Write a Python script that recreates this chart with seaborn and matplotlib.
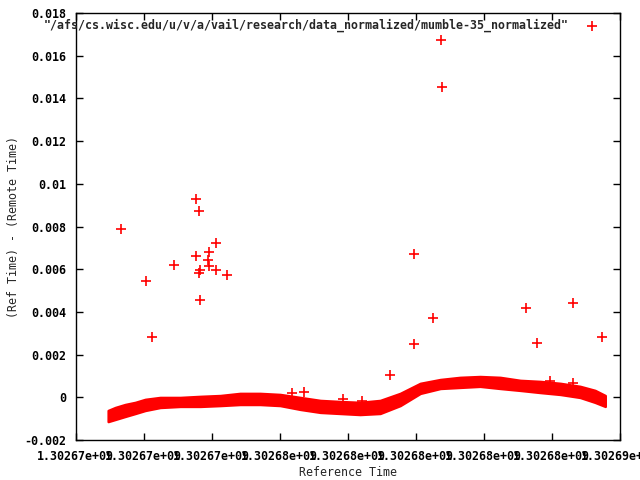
import matplotlib
matplotlib.use("Agg")
import matplotlib.pyplot as plt
import seaborn as sns
import pandas as pd
from matplotlib.ticker import FuncFormatter, MultipleLocator

# dense band of normal samples: time, upper edge, lower edge
band_t = [1302670960, 1302671170, 1302671460, 1302671760, 1302672050, 1302672490,
          1302673080, 1302673670, 1302674260, 1302674840, 1302675430, 1302676020,
          1302676610, 1302677200, 1302677780, 1302678370, 1302678960, 1302679550,
          1302680140, 1302680730, 1302681310, 1302681900, 1302682490, 1302683080,
          1302683670, 1302684260, 1302684840, 1302685280, 1302685580]
band_hi = [-0.00061, -0.00047, -0.00033, -0.00023, -0.00009, 0.0, 0.0, 0.00005,
           0.00009, 0.00019, 0.00019, 0.00014, 0.0, -0.00014, -0.00019, -0.00023,
           -0.00014, 0.00019, 0.00066, 0.00084, 0.00094, 0.00098, 0.00094, 0.00080,
           0.00075, 0.00066, 0.00052, 0.00033, 0.00009]
band_lo = [-0.00113, -0.00103, -0.00089, -0.00075, -0.00061, -0.00047, -0.00042,
           -0.00042, -0.00038, -0.00033, -0.00033, -0.00038, -0.00056, -0.00070,
           -0.00075, -0.00080, -0.00075, -0.00038, 0.00019, 0.00042, 0.00047,
           0.00052, 0.00042, 0.00033, 0.00023, 0.00014, 0.0, -0.00023, -0.00042]

# scattered samples
out_t = [1302680755, 1302680785, 1302671344, 1302673550, 1302673638, 1302674138,
         1302673932, 1302673550, 1302673903, 1302672903, 1302673932, 1302673667,
         1302674138, 1302673638, 1302674461, 1302672079, 1302673667, 1302672256,
         1302679961, 1302679961, 1302680520, 1302679255, 1302683255, 1302683579,
         1302684637, 1302685490, 1302683961, 1302684637, 1302676373, 1302676726,
         1302677873, 1302678432]
out_d = [0.01673, 0.01453, 0.007875, 0.009281, 0.008719, 0.007219,
         0.006797, 0.006609, 0.006422, 0.006188, 0.006141, 0.005953,
         0.005953, 0.005813, 0.005719, 0.005438, 0.004547, 0.002813,
         0.006703, 0.002484, 0.003703, 0.001031, 0.004172, 0.002531,
         0.004406, 0.002813, 0.00075, 0.000656, 0.000188, 0.000234,
         -0.000094, -0.000188]

label = '"/afs/cs.wisc.edu/u/v/a/vail/research/data_normalized/mumble-35_normalized"'

sns.set_theme(style="white")
plt.rcParams['font.family'] = ['DejaVu Sans Mono']
plt.rcParams['font.weight'] = 'bold'
fs = 8.4

fig = plt.figure(figsize=(6.4, 4.8), dpi=100)
ax = fig.add_axes([0.118, 0.083, 0.850, 0.890])

ax.fill_between(band_t, band_lo, band_hi, facecolor="red", edgecolor="red",
                linewidth=1.8)
df = pd.DataFrame({"t": out_t, "d": out_d})
sns.scatterplot(data=df, x="t", y="d", marker="+", s=60, color="red",
                linewidth=1.2, ax=ax, label=label)

ax.set_xlim(1302670000, 1302686000)
ax.set_ylim(-0.002, 0.018)
ax.xaxis.set_major_locator(MultipleLocator(2000))
ax.yaxis.set_major_locator(MultipleLocator(0.002))
ax.xaxis.set_major_formatter(FuncFormatter(lambda v, p: "%g" % v))
ax.yaxis.set_major_formatter(FuncFormatter(lambda v, p: "%g" % round(v, 6)))
ax.tick_params(direction="in", length=5, width=1, colors="black", labelsize=fs,
               top=True, right=True, bottom=True, left=True)
ax.tick_params(axis="x", pad=7)
ax.tick_params(axis="y", pad=7)
for sp in ax.spines.values():
    sp.set_color("black")
    sp.set_linewidth(1)

ax.set_xlabel("Reference Time", fontsize=fs, labelpad=2)
ax.set_ylabel("(Ref Time) - (Remote Time)", fontsize=fs, labelpad=3)

ax.legend(loc="upper right", frameon=False, markerfirst=False, fontsize=fs,
          handletextpad=1.2, borderaxespad=0.0, handlelength=1.5,
          bbox_to_anchor=(0.974, 0.998))

fig.savefig("out.png", dpi=100)
